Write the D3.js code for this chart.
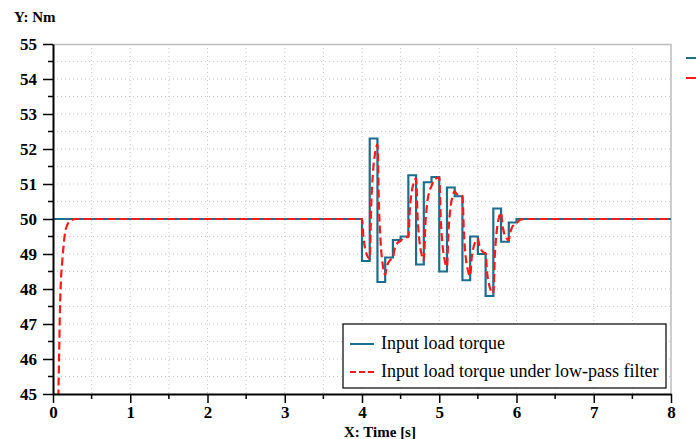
<!DOCTYPE html>
<html>
<head>
<meta charset="utf-8">
<script src="https://cdn.jsdelivr.net/npm/d3@7"></script>
<style>
  body { margin: 0; background: #fff; }
  svg text { font-family: "Liberation Serif", "DejaVu Serif", "Times New Roman", serif !important; }
</style>
</head>
<body>
<div id="chart-area"></div>
<script>
// input load torque (step signal), [time s, Nm]
const torqueT = [0, 4.0, 4.1, 4.2, 4.3, 4.4, 4.5, 4.6, 4.7, 4.8, 4.9, 5.0, 5.1, 5.2, 5.3, 5.4, 5.5, 5.6, 5.7, 5.8, 5.9, 6.0, 8]
const torqueV = [50, 48.8, 52.3, 48.2, 48.9, 49.4, 49.5, 51.25, 48.7, 51.05, 51.2, 48.5, 50.9, 50.65, 48.25, 49.5, 49.0, 47.8, 50.3, 49.35, 49.9, 50, 50]

// same torque after low-pass filter
const filteredT = [0.069, 0.08, 0.09, 0.1, 0.12, 0.14, 0.155, 0.18, 0.22, 0.3, 4.0,
  4.02, 4.04, 4.07, 4.1, 4.12, 4.14, 4.17, 4.2, 4.22, 4.24, 4.27, 4.3,
  4.32, 4.34, 4.37, 4.4, 4.42, 4.44, 4.47, 4.5, 4.52, 4.55, 4.6,
  4.62, 4.64, 4.67, 4.7, 4.72, 4.74, 4.77, 4.8, 4.82, 4.84, 4.87, 4.9,
  4.92, 4.95, 5.0, 5.02, 5.04, 5.07, 5.1, 5.12, 5.14, 5.17, 5.2,
  5.22, 5.25, 5.3, 5.32, 5.34, 5.37, 5.4, 5.42, 5.44, 5.47, 5.5,
  5.52, 5.54, 5.57, 5.6, 5.62, 5.64, 5.67, 5.7, 5.72, 5.74, 5.77, 5.8,
  5.82, 5.84, 5.87, 5.9, 5.92, 5.94, 5.97, 6.0, 6.03, 6.07, 6.15, 8]
const filteredV = [44.9, 46.2, 47.4, 48.1, 48.8, 49.3, 49.6, 49.8, 49.95, 50, 50,
  49.45, 49.16, 48.94, 48.86, 50.43, 51.27, 51.89, 52.13, 50.34, 49.38, 48.67, 48.4,
  48.63, 48.75, 48.84, 48.88, 49.12, 49.24, 49.34, 49.37, 49.43, 49.47, 49.49,
  50.29, 50.72, 51.04, 51.16, 50.04, 49.44, 49.0, 48.82, 49.83, 50.38, 50.78, 50.94,
  51.06, 51.15, 51.19, 49.97, 49.31, 48.82, 48.63, 49.66, 50.22, 50.63, 50.79,
  50.73, 50.68, 50.66, 49.56, 48.97, 48.54, 48.37, 48.88, 49.16, 49.36, 49.44,
  49.24, 49.13, 49.05, 49.02, 48.46, 48.17, 47.95, 47.86, 48.97, 49.57, 50.01, 50.18,
  49.8, 49.6, 49.45, 49.39, 49.62, 49.75, 49.84, 49.87, 49.95, 49.99, 50, 50]

const xTicks = [0, 1, 2, 3, 4, 5, 6, 7, 8]
const yTicks = [45, 46, 47, 48, 49, 50, 51, 52, 53, 54, 55]
const legendNames = ["Input load torque", "Input load torque under low-pass filter"]

const MARGIN = { LEFT: 53, TOP: 44 }
const WIDTH = 618
const HEIGHT = 350
const BLUE = "#1b6e8c"
const RED = "#ff1a1a"
const FONT = "'Liberation Serif', 'DejaVu Serif', serif"

const svg = d3.select("#chart-area").append("svg")
  .attr("width", 696)
  .attr("height", 439)
  .style("display", "block")

const g = svg.append("g")
  .attr("transform", `translate(${MARGIN.LEFT}, ${MARGIN.TOP})`)

const x = d3.scaleLinear().domain([0, 8]).range([0, WIDTH])
const y = d3.scaleLinear().domain([45, 55]).range([HEIGHT, 0])

// dotted grid every 0.5
const gridX = d3.range(0.5, 8, 0.5)
const gridY = d3.range(45.5, 55, 0.5)
g.selectAll(".gx").data(gridX).enter().append("line")
  .attr("x1", d => x(d)).attr("x2", d => x(d))
  .attr("y1", 0).attr("y2", HEIGHT)
  .attr("stroke", "#c8c8c8").attr("stroke-dasharray", "1,3")
g.selectAll(".gy").data(gridY).enter().append("line")
  .attr("x1", 0).attr("x2", WIDTH)
  .attr("y1", d => y(d)).attr("y2", d => y(d))
  .attr("stroke", "#c8c8c8").attr("stroke-dasharray", "1,3")

// top and right frame
g.append("path")
  .attr("d", `M0,0.5H${WIDTH}V${HEIGHT}`)
  .attr("fill", "none").attr("stroke", "#bdbdbd").attr("stroke-width", 1.5)

// clip for data
g.append("clipPath").attr("id", "clip").append("rect")
  .attr("x", 0).attr("y", 0).attr("width", WIDTH).attr("height", HEIGHT)

const plot = g.append("g").attr("clip-path", "url(#clip)")

const torque = torqueT.map((t, i) => ({ t: t, v: torqueV[i] }))
const filtered = filteredT.map((t, i) => ({ t: t, v: filteredV[i] }))

plot.append("path")
  .datum(torque)
  .attr("fill", "none")
  .attr("stroke", BLUE)
  .attr("stroke-width", 2.2)
  .attr("d", d3.line().x(d => x(d.t)).y(d => y(d.v)).curve(d3.curveStepAfter))

plot.append("path")
  .datum(filtered)
  .attr("fill", "none")
  .attr("stroke", RED)
  .attr("stroke-width", 2.2)
  .attr("stroke-dasharray", "8,4")
  .attr("d", d3.line().x(d => x(d.t)).y(d => y(d.v)).curve(d3.curveMonotoneX))

// axes
const xAxis = d3.axisBottom(x).tickValues(xTicks).tickSize(9).tickPadding(2).tickSizeOuter(0).tickFormat(d3.format("d"))
const yAxis = d3.axisLeft(y).tickValues(yTicks).tickSize(10).tickSizeOuter(0).tickFormat(d3.format("d"))

const xAxisGroup = g.append("g").attr("transform", `translate(0, ${HEIGHT})`).call(xAxis)
const yAxisGroup = g.append("g").call(yAxis)

// minor ticks
g.selectAll(".mx").data(d3.range(0.5, 8, 1)).enter().append("line")
  .attr("x1", d => x(d)).attr("x2", d => x(d))
  .attr("y1", HEIGHT).attr("y2", HEIGHT + 5)
  .attr("stroke", "#000").attr("stroke-width", 1.5)
g.selectAll(".my").data(d3.range(45.5, 55, 1)).enter().append("line")
  .attr("x1", -5).attr("x2", 0)
  .attr("y1", d => y(d)).attr("y2", d => y(d))
  .attr("stroke", "#000").attr("stroke-width", 1.5)

;[xAxisGroup, yAxisGroup].forEach(a => {
  a.attr("font-family", FONT)
  a.select(".domain").attr("stroke", "#000").attr("stroke-width", 2)
  a.selectAll(".tick line").attr("stroke", "#000").attr("stroke-width", 1.5)
  a.selectAll("text")
    .style("font-family", FONT)
    .attr("font-size", 17)
    .attr("font-weight", "bold")
    .attr("fill", "#000")
})
xAxisGroup.selectAll("text").attr("dy", "0.75em")
yAxisGroup.selectAll("text").attr("x", -16)

// axis titles
svg.append("text")
  .attr("x", 14).attr("y", 22)
  .style("font-family", FONT)
  .attr("font-size", 15).attr("font-weight", "bold")
  .text("Y: Nm")
svg.append("text")
  .attr("x", 380).attr("y", 437)
  .attr("text-anchor", "middle")
  .style("font-family", FONT)
  .attr("font-size", 15).attr("font-weight", "bold")
  .text("X: Time [s]")

// legend
const legend = svg.append("g").attr("transform", "translate(343, 324)")
legend.append("rect")
  .attr("width", 323).attr("height", 64)
  .attr("fill", "#fff").attr("stroke", "#000").attr("stroke-width", 1.2)
legendNames.forEach((name, i) => {
  legend.append("line")
    .attr("x1", 7).attr("x2", 31)
    .attr("y1", 20 + i * 28).attr("y2", 20 + i * 28)
    .attr("stroke", i === 0 ? BLUE : RED)
    .attr("stroke-width", 2)
    .attr("stroke-dasharray", i === 0 ? null : "6,3")
  legend.append("text")
    .attr("x", 38).attr("y", 25 + i * 28)
    .style("font-family", FONT)
    .attr("font-size", 18)
    .text(name)
})

// cut-off legend stubs at the right edge
svg.append("line").attr("x1", 686).attr("x2", 700).attr("y1", 58).attr("y2", 58)
  .attr("stroke", BLUE).attr("stroke-width", 2)
svg.append("line").attr("x1", 686).attr("x2", 700).attr("y1", 78).attr("y2", 78)
  .attr("stroke", RED).attr("stroke-width", 2)
</script>
</body>
</html>
